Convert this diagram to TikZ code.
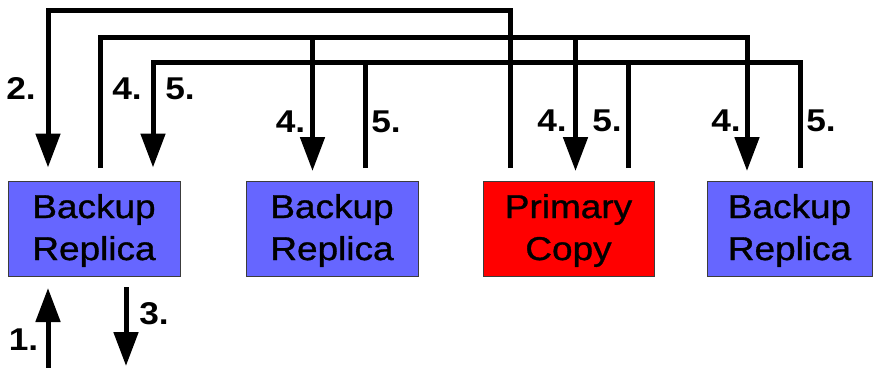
\documentclass[tikz,border=0pt]{standalone}
\usepackage{fontspec}
\setmainfont[FakeStretch=1.12]{Liberation Sans}
\newfontfamily\boxfont[FakeStretch=1.12,FakeBold=1]{Liberation Sans}
\usetikzlibrary{arrows.meta}
\definecolor{boxblue}{RGB}{102,102,255}
\definecolor{boxred}{RGB}{255,0,0}
\definecolor{edgegray}{RGB}{60,60,60}
\tikzset{
  box/.style={draw=edgegray, line width=1pt, minimum height=95pt, inner sep=0pt},
  boxtext/.style={align=center, inner sep=0pt, font=\boxfont\fontsize{33}{42}\selectfont},
  steplabel/.style={inner sep=0pt, font=\fontsize{31.5}{31.5}\selectfont\bfseries},
  conn/.style={line width=5pt, line join=miter, black},
  arr/.style={-{Triangle[length=34pt,width=24pt]}}
}
\begin{document}
\begin{tikzpicture}[x=1pt,y=-1pt]
\useasboundingbox (0,0) rectangle (873,367);
% boxes
\node[box, fill=boxblue, minimum width=172pt] (b1) at (94,228.5) {};
\node[box, fill=boxblue, minimum width=172pt] (b2) at (332,228.5) {};
\node[box, fill=boxred, minimum width=171pt] (p) at (568.5,228.5) {};
\node[box, fill=boxblue, minimum width=165pt] (b4) at (789.5,228.5) {};
\node[boxtext] (t1) at ([yshift=-2pt]b1.center) {Backup\\Replica};
\node[boxtext] (t2) at ([yshift=-2pt]b2.center) {Backup\\Replica};
\node[boxtext] (t3) at ([yshift=-2pt]p.center) {Primary\\Copy};
\node[boxtext] (t4) at ([yshift=-2pt]b4.center) {Backup\\Replica};
% connector end points
\coordinate (s2) at (510,168);
\coordinate (e2) at (48,167.5);
\coordinate (s4) at (100,168);
\coordinate (e4a) at (312.5,171);
\coordinate (e4b) at (575.5,171);
\coordinate (e4c) at (747,171);
\coordinate (j4a) at (312.5,37);
\coordinate (j4b) at (575.5,37);
\coordinate (s5a) at (365,168);
\coordinate (s5b) at (628,168);
\coordinate (s5c) at (800,168);
\coordinate (j5a) at (365,62);
\coordinate (j5b) at (628,62);
\coordinate (e5) at (153,167.5);
\coordinate (in1) at (48,370);
\coordinate (in1t) at (48,288);
\coordinate (out3) at (126,287);
\coordinate (out3t) at (126,366);
% step 2
\draw[conn,arr] (s2) -- ++(0,-158) -| (e2);
% step 4
\draw[conn,arr] (s4) -- ++(0,-131) -| (e4c);
\draw[conn,arr] (j4a) -- (e4a);
\draw[conn,arr] (j4b) -- (e4b);
% step 5
\draw[conn,arr] (s5c) -- ++(0,-106) -| (e5);
\draw[conn] (s5a) -- (j5a);
\draw[conn] (s5b) -- (j5b);
% steps 1 and 3
\draw[conn,arr] (in1) -- (in1t);
\draw[conn,arr] (out3) -- (out3t);
% labels
\node[steplabel] (l2) at (21,89) {2.};
\node[steplabel] (l4a) at (127,89) {4.};
\node[steplabel] (l5a) at (180,89) {5.};
\node[steplabel] (l4b) at (290.5,122) {4.};
\node[steplabel] (l5b) at (386,122) {5.};
\node[steplabel] (l4c) at (552,121) {4.};
\node[steplabel] (l5c) at (607,121) {5.};
\node[steplabel] (l4d) at (726,121) {4.};
\node[steplabel] (l5d) at (821,121) {5.};
\node[steplabel] (l1) at (23.5,340) {1.};
\node[steplabel] (l3) at (154,314) {3.};
\end{tikzpicture}
\end{document}
